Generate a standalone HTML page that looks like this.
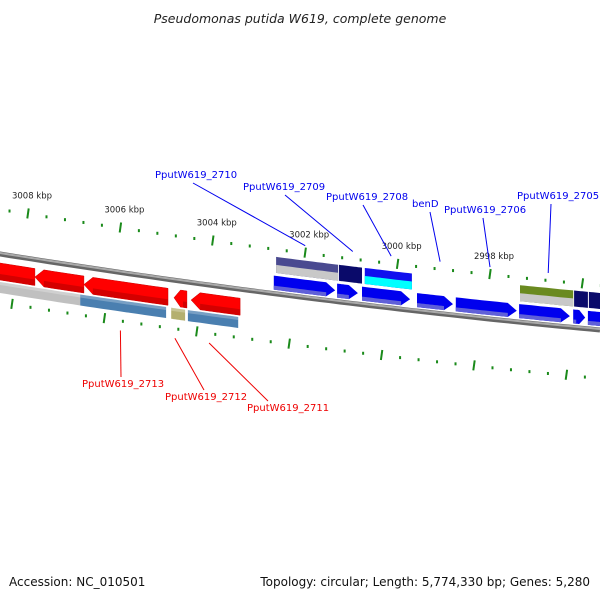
<!DOCTYPE html>
<html><head><meta charset="utf-8"><style>
html,body{margin:0;padding:0;background:#fff}
svg{display:block;font-family:"DejaVu Sans","Liberation Sans",sans-serif}
</style></head><body>
<svg id="map" width="600" height="600" viewBox="0 0 600 600">
<text x="300" y="23" text-anchor="middle" font-size="12.5" font-style="italic" fill="#222">Pseudomonas putida W619, complete genome</text>
<text x="9" y="586" font-size="12" fill="#111">Accession: NC_010501</text>
<text x="590" y="586" text-anchor="end" font-size="12" fill="#111">Topology: circular; Length: 5,774,330 bp; Genes: 5,280</text>
<g id="ticks"></g><g id="backbone"></g><g id="feats"></g><g id="labels"></g>
</svg>
<script>
// data (kbp)
const majorTicks=[3008,3006,3004,3002,3000,2998,2996];
const tickLabels=["3008 kbp","3006 kbp","3004 kbp","3002 kbp","3000 kbp","2998 kbp",""];
const revStart=[3008.8,3007.85,3006.79,3004.84,3004.47];
const revEnd=[3007.85,3006.79,3004.97,3004.56,3003.41];
const revLowStart=[3008.8,3006.87,3004.90,3004.54];
const revLowEnd=[3006.87,3005.01,3004.60,3003.45];
const revLowColor=["#c0c0c0","#4a7fb0","#b4b070","#4a7fb0"];
const fwdStart=[3002.68,3001.31,3000.77,2999.58,2998.74,2997.37,2996.20,2995.88];
const fwdEnd=[3001.35,3000.86,2999.73,2998.80,2997.42,2996.27,2995.94,2995.30];
const topStart=[3002.63,3001.27,3000.71,2997.35,2996.18,2995.86];
const topEnd=[3001.29,3000.77,2999.69,2996.20,2995.88,2995.30];
const topColor=["#4a4a90","#0a0a6a","#1010ee","#6a8a20","#0a0a6a","#0a0a6a"];
const topSub=["#c8c8c8",null,"#00ffff","#c8c8c8",null,null];
const labelText=["PputW619_2710","PputW619_2709","PputW619_2708","benD","PputW619_2706","PputW619_2705","PputW619_2713","PputW619_2712","PputW619_2711"];
const labelKbp=[3002.0,3000.97,3000.14,2999.08,2998.0,2996.74,3006.0,3004.82,3004.08];

const NS="http://www.w3.org/2000/svg";
const X=k=>28+(3008-k)*46.2;
const yc=x=>254+0.16*x-5.56e-5*x*x;
function mk(tag,attrs,parent){const e=document.createElementNS(NS,tag);for(const a in attrs)e.setAttribute(a,attrs[a]);document.getElementById(parent).appendChild(e);return e;}
function band(x1,x2,o1,o2){let top=[],bot=[];for(let i=0;i<=12;i++){const x=x1+(x2-x1)*i/12;top.push(x.toFixed(1)+","+(yc(x)+o1).toFixed(1));bot.unshift(x.toFixed(1)+","+(yc(x)+o2).toFixed(1));}return top.concat(bot).join(" ");}
function arrow(x1,x2,o1,o2,dir){const h=Math.min(9,(x2-x1)*0.5),m=(o1+o2)/2;let p=[];
 if(dir>0){const xe=x2-h;for(let i=0;i<=10;i++){const x=x1+(xe-x1)*i/10;p.push([x,yc(x)+o1]);}p.push([x2,yc(x2)+m]);for(let i=10;i>=0;i--){const x=x1+(xe-x1)*i/10;p.push([x,yc(x)+o2]);}}
 else{const xs=x1+h;p.push([x1,yc(x1)+m]);for(let i=0;i<=10;i++){const x=xs+(x2-xs)*i/10;p.push([x,yc(x)+o1]);}for(let i=10;i>=0;i--){const x=xs+(x2-xs)*i/10;p.push([x,yc(x)+o2]);}}
 return p.map(q=>q[0].toFixed(1)+","+q[1].toFixed(1)).join(" ");}
// ticks
for(let i=0;i<40;i++){const kk=Math.round((3010-0.4*i)*10)/10,x=X(kk);if(x<-2||x>602)continue;
 const major=Math.abs(kk/2-Math.round(kk/2))<0.01;
 [[-45,-50,-40],[48,43,53]].forEach((o,j)=>{
  const xo=x+(j?-16:0);
  if(major){const t=mk("line",{x1:xo+0.7,y1:yc(xo)+o[1],x2:xo-0.7,y2:yc(xo)+o[2],stroke:"#1a8a1a","stroke-width":2},"ticks");
   }
  else{const t=mk("rect",{x:xo-1,y:yc(xo)+o[0]-1,width:2,height:3,fill:"#1a8a1a"},"ticks");
   }
 });}
majorTicks.forEach((k,i)=>{if(!tickLabels[i])return;const x=X(k);const t=mk("text",{x:x+4,y:yc(x)-60,"text-anchor":"middle","font-size":8.5,fill:"#222"},"ticks");t.textContent=tickLabels[i];
 });
// backbone
let d="M-5,"+yc(-5);for(let x=0;x<=605;x+=10)d+=" L"+x+","+yc(x).toFixed(1);
const b1=mk("path",{d:d,fill:"none",stroke:"#666","stroke-width":5},"backbone");
const b2=mk("path",{d:d,fill:"none",stroke:"#aaa","stroke-width":2,transform:"translate(0,-1)"},"backbone");
// reverse strand
revStart.forEach((s,i)=>{const x1=X(s),x2=X(revEnd[i]);
 const p=mk("polygon",{points:arrow(x1,x2,9,26,-1),fill:"#ff0000",stroke:"#c00","stroke-width":0.5},"feats");
 const h=mk("polygon",{points:band(x1+9,x2,20,26),fill:"#d40000"},"feats");});
revLowStart.forEach((s,i)=>{const x1=X(s),x2=X(revLowEnd[i]);
 const p=mk("polygon",{points:band(x1,x2,28,39),fill:revLowColor[i]},"feats");
 const h=mk("polygon",{points:band(x1,x2,28,31),fill:"rgba(255,255,255,0.25)"},"feats");});
// forward strand
fwdStart.forEach((s,i)=>{const x1=X(s),x2=X(fwdEnd[i]);
 const p=mk("polygon",{points:arrow(x1,x2,-18,-4,1),fill:"#0000ee"},"feats");
 const h=mk("polygon",{points:band(x1,x2-9,-8,-4),fill:"#6060d8"},"feats");});
topStart.forEach((s,i)=>{const x1=X(s),x2=X(topEnd[i]);
 const p=mk("polygon",{points:band(x1,x2,-37,-21),fill:topColor[i]},"feats");
 if(topSub[i]){const q=mk("polygon",{points:band(x1,x2,-29,-21),fill:topSub[i]},"feats");}});
// labels
const lblPos=[[155,178],[243,190],[326,200],[412,207],[444,213],[517,199],[82,387],[165,400],[247,411]];
const anchorDx=[38,42,37,18,39,34,39,39,21];
labelText.forEach((t,i)=>{const red=i>=6,x=X(labelKbp[i]);const col=red?"#ee0000":"#0000ee";
 const [lx,ly]=lblPos[i];
 const ax=lx+anchorDx[i];
 const ay=red?ly-10:ly+5;const ty=red?yc(x)+58:yc(x)-52;
 const l=mk("line",{x1:x,y1:ty,x2:ax,y2:ay,stroke:col,"stroke-width":1},"labels");
 
 const e=mk("text",{x:lx,y:ly,"font-size":10,fill:col},"labels");e.textContent=t;
 });
</script>
</body></html>
